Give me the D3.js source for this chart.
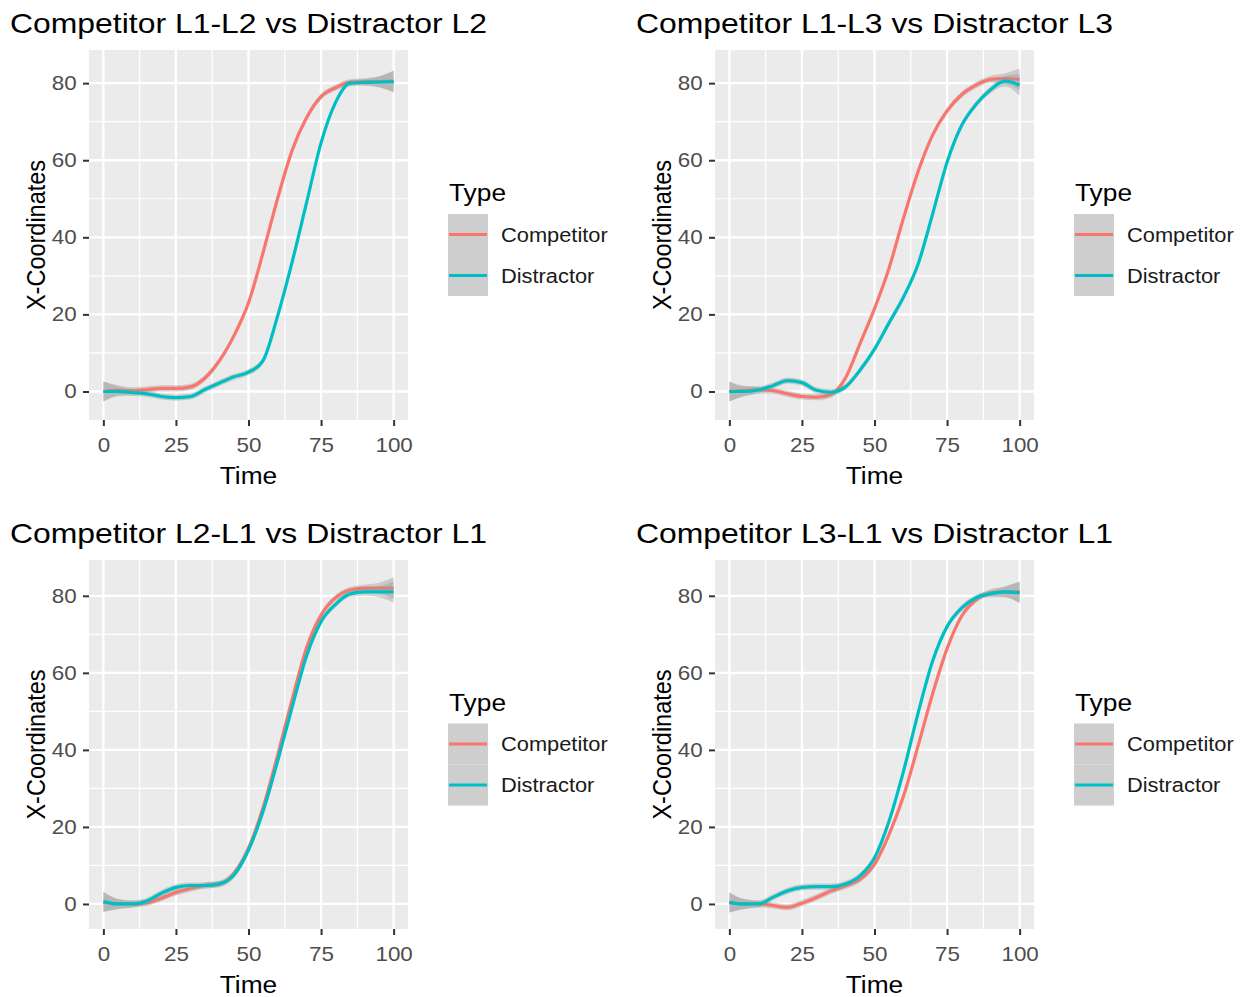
<!DOCTYPE html>
<html>
<head>
<meta charset="utf-8">
<script src="https://cdn.jsdelivr.net/npm/d3@7"></script>
<style>
  body { margin: 0; background: #ffffff; }
  svg { display: block; font-family: "Liberation Sans", Arial, sans-serif; }
</style>
</head>
<body>
<div class="svg-container"></div>
<script>
// time points sampled along each smoothed curve
var timePoints = [0, 5, 10, 15, 20, 25, 30, 35, 40, 45, 50, 55, 60, 65, 70, 75, 80, 85, 90, 95, 100];

var titles = [
    "Competitor L1-L2 vs Distractor L2",
    "Competitor L1-L3 vs Distractor L3",
    "Competitor L2-L1 vs Distractor L1",
    "Competitor L3-L1 vs Distractor L1"
];
var typeLabels = ["Competitor", "Distractor"];
var xTicks = [0, 25, 50, 75, 100];
var yTicks = [0, 20, 40, 60, 80];

// panel 1: L1-L2 vs L2
var compL1L2 = [0, 0.3, 0.2, 0.5, 0.8, 0.8, 1.2, 3.5, 8, 14.5, 23, 36, 50, 62.5, 71, 76.5, 78.8, 80.2, 80.4, 80.4, 80.5];
var distL2   = [0, 0, -0.3, -0.6, -1.3, -1.6, -1.3, 0.5, 2.2, 3.8, 5, 8, 19.5, 33.5, 49, 64.5, 75, 80, 80.2, 80.3, 80.4];
// panel 2: L1-L3 vs L3
var compL1L3 = [0, 0.2, 0.4, 0.2, -0.6, -1.3, -1.5, -0.8, 3.5, 12.4, 21.5, 32, 45, 57, 66.5, 72.8, 77, 79.5, 81, 81.2, 81];
var distL3   = [0, 0, 0.4, 1.5, 2.8, 2.3, 0.3, -0.2, 1.2, 5.5, 11, 17.8, 24.5, 33, 46, 59.5, 69, 74.5, 78.3, 80.5, 79.5];
// panel 3: L2-L1 vs L1
var compL2L1 = [0.5, 0, 0, 0.3, 1.5, 3, 4, 4.8, 5.2, 8, 14.5, 25, 38.5, 53, 66.5, 75, 79.5, 81.5, 82, 82, 82];
var distL1a  = [0.6, 0, 0, 0.8, 2.8, 4.3, 4.8, 4.8, 5.2, 7.5, 14, 24, 37, 51, 64.4, 73.3, 77.8, 80.5, 81, 81, 81];
// panel 4: L3-L1 vs L1
var compL3L1 = [0.4, 0, 0, -0.4, -0.9, 0.2, 1.7, 3.4, 4.7, 6.4, 10.3, 18, 28, 41, 54.5, 66.3, 74.7, 79, 80.8, 81, 81];
var distL1b  = [0.4, 0, 0, 1.7, 3.4, 4.3, 4.5, 4.5, 5.2, 7.3, 12, 21.5, 34.5, 49.5, 63, 72, 76.8, 79.5, 80.5, 81, 80.8];

// half width of the grey confidence band
var bandHalf = [2.6, 1.3, 0.9, 0.8, 0.8, 0.8, 0.8, 0.8, 0.8, 0.8, 0.8, 0.8, 0.8, 0.8, 0.8, 0.8, 0.8, 0.8, 0.9, 1.4, 2.8];

var colors = ["#F8766D", "#00BFC4"];
var sx = 1.12; // the picture is slightly stretched sideways

var panels = [
    { title: titles[0], px: [89, 408], py: [50, 420], yDom: [-7.4, 88.6], series: [compL1L2, distL2] },
    { title: titles[1], px: [715, 1034], py: [50, 420], yDom: [-7.4, 88.6], series: [compL1L3, distL3] },
    { title: titles[2], px: [89, 408], py: [560, 929], yDom: [-6.5, 89.3], series: [compL2L1, distL1a] },
    { title: titles[3], px: [715, 1034], py: [560, 929], yDom: [-6.5, 89.3], series: [compL3L1, distL1b] }
];

var svg = d3.select(".svg-container").append("svg")
    .attr("width", 1245)
    .attr("height", 997);

function addText(g, x, y, str, size, color, anchor, rotate) {
    return g.append("text")
        .attr("transform", "translate(" + x + "," + y + ") scale(" + sx + ",1)" + (rotate ? " rotate(-90)" : ""))
        .attr("text-anchor", anchor)
        .style("font-size", size + "px")
        .style("fill", color)
        .text(str);
}

panels.forEach(function(p, i) {
    var g = svg.append("g");
    var x = d3.scaleLinear().domain([-4.95, 104.95]).range(p.px);
    var y = d3.scaleLinear().domain(p.yDom).range([p.py[1], p.py[0]]);

    // panel background
    g.append("rect")
        .attr("x", p.px[0]).attr("y", p.py[0])
        .attr("width", p.px[1] - p.px[0]).attr("height", p.py[1] - p.py[0])
        .attr("fill", "#EBEBEB");

    // minor grid
    var xMinor = [12.5, 37.5, 62.5, 87.5];
    var yMinor = [10, 30, 50, 70];
    g.selectAll(".xminor").data(xMinor).enter().append("line")
        .attr("x1", d => x(d)).attr("x2", d => x(d))
        .attr("y1", p.py[0]).attr("y2", p.py[1])
        .attr("stroke", "#fff").attr("stroke-width", 1.2);
    g.selectAll(".yminor").data(yMinor).enter().append("line")
        .attr("y1", d => y(d)).attr("y2", d => y(d))
        .attr("x1", p.px[0]).attr("x2", p.px[1])
        .attr("stroke", "#fff").attr("stroke-width", 1.2);
    // major grid
    g.selectAll(".xmajor").data(xTicks).enter().append("line")
        .attr("x1", d => x(d)).attr("x2", d => x(d))
        .attr("y1", p.py[0]).attr("y2", p.py[1])
        .attr("stroke", "#fff").attr("stroke-width", 2.3);
    g.selectAll(".ymajor").data(yTicks).enter().append("line")
        .attr("y1", d => y(d)).attr("y2", d => y(d))
        .attr("x1", p.px[0]).attr("x2", p.px[1])
        .attr("stroke", "#fff").attr("stroke-width", 2.3);

    // smooth bands + lines, one group after the other like geom_smooth
    var area = d3.area()
        .x((d, j) => x(timePoints[j]))
        .y0((d, j) => y(d - bandHalf[j]))
        .y1((d, j) => y(d + bandHalf[j]))
        .curve(d3.curveMonotoneX);
    var line = d3.line()
        .x((d, j) => x(timePoints[j]))
        .y(d => y(d))
        .curve(d3.curveMonotoneX);

    p.series.forEach(function(vals, k) {
        g.append("path").datum(vals)
            .attr("d", area)
            .attr("fill", "#999999")
            .attr("fill-opacity", 0.4);
        g.append("path").datum(vals)
            .attr("d", line)
            .attr("fill", "none")
            .attr("stroke", colors[k])
            .attr("stroke-width", 3.2);
    });

    // axes
    var yAxis = g.append("g")
        .attr("transform", "translate(" + p.px[0] + ",0)")
        .call(d3.axisLeft(y).tickValues(yTicks).tickSize(6).tickPadding(5));
    var xAxis = g.append("g")
        .attr("transform", "translate(0," + p.py[1] + ")")
        .call(d3.axisBottom(x).tickValues(xTicks).tickSize(6).tickPadding(12));
    [xAxis, yAxis].forEach(function(a) {
        a.select(".domain").remove();
        a.selectAll(".tick line").attr("stroke", "#333333").attr("stroke-width", 2);
        a.selectAll(".tick text")
            .style("font-size", "20px")
            .style("font-family", "'Liberation Sans', Arial, sans-serif")
            .attr("fill", "#4D4D4D")
            .attr("transform", "scale(" + sx + ",1)");
    });

    // titles
    addText(g, p.px[0] - 79, p.py[0] - 17, p.title, 28.5, "#000", "start", false);
    addText(g, (p.px[0] + p.px[1]) / 2, p.py[1] + 64, "Time", 23.5, "#000", "middle", false);
    addText(g, p.px[0] - 44, (p.py[0] + p.py[1]) / 2, "X-Coordinates", 23.5, "#000", "middle", true);

    // legend
    var cy = (p.py[0] + p.py[1]) / 2;
    var lx = p.px[1] + 40;
    var keyTop = cy - 21;
    var keyW = 40, keyH = 41;
    addText(g, lx + 1, keyTop - 13, "Type", 23.5, "#000", "start", false);
    typeLabels.forEach(function(lab, k) {
        var ky = keyTop + k * keyH;
        g.append("rect").attr("x", lx).attr("y", ky).attr("width", keyW).attr("height", keyH)
            .attr("fill", "#F2F2F2");
        g.append("rect").attr("x", lx).attr("y", ky).attr("width", keyW).attr("height", keyH)
            .attr("fill", "#999999").attr("fill-opacity", 0.4);
        g.append("line")
            .attr("x1", lx + 1).attr("x2", lx + keyW - 1)
            .attr("y1", ky + keyH / 2).attr("y2", ky + keyH / 2)
            .attr("stroke", colors[k]).attr("stroke-width", 3.2);
        addText(g, lx + keyW + 13, ky + keyH / 2 + 7, lab, 19.5, "#1a1a1a", "start", false);
    });
});
</script>
</body>
</html>
